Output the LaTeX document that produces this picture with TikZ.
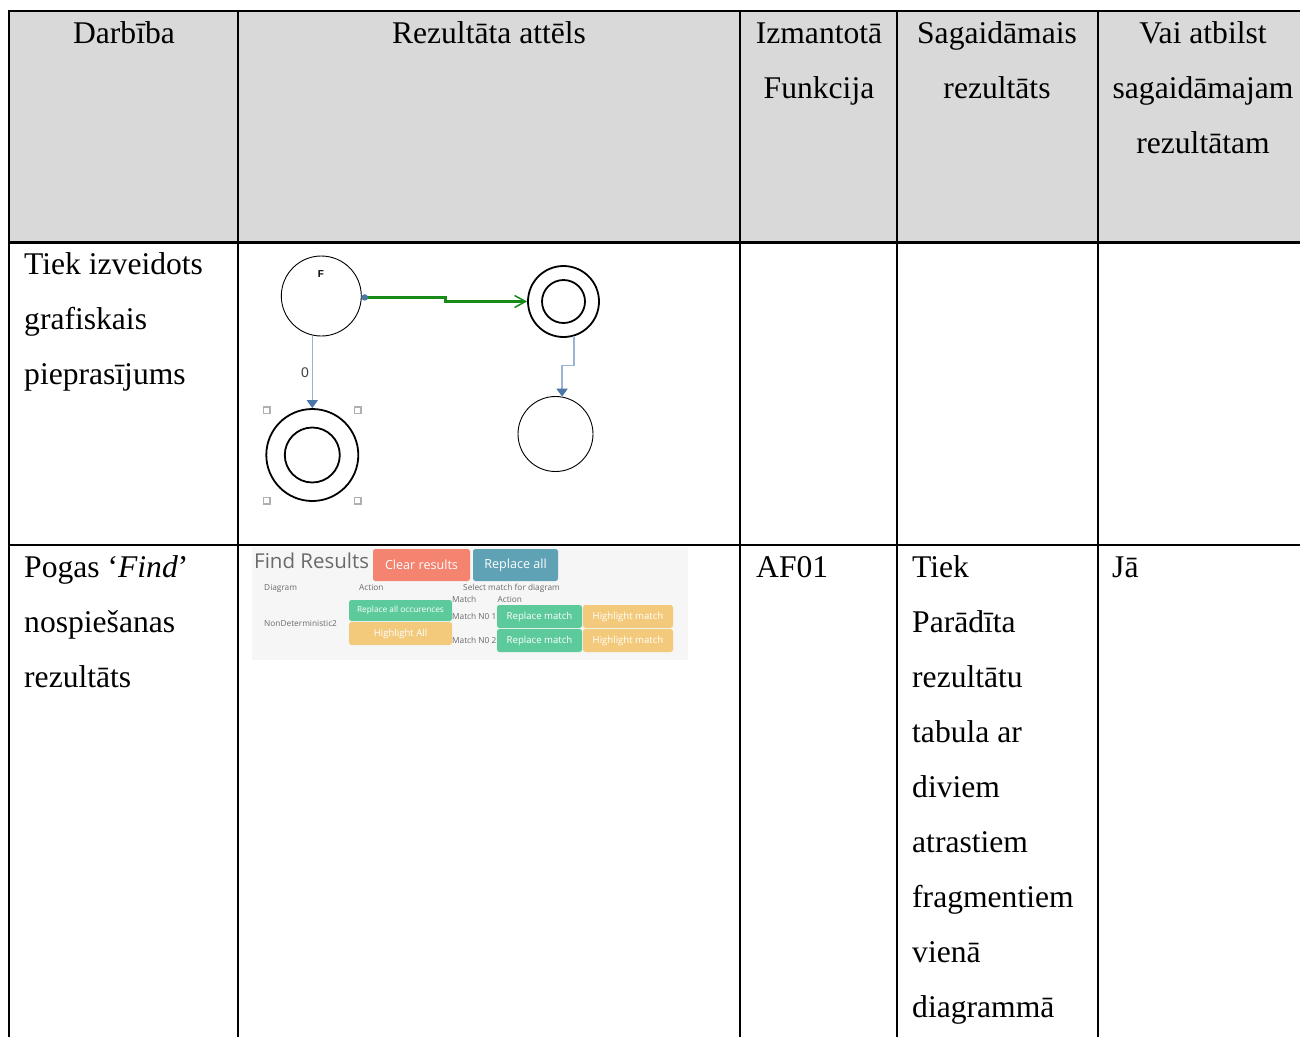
\documentclass[tikz,border=0pt]{standalone}
\usepackage{fontspec}
\setmainfont{Liberation Serif}
\newfontfamily\uifont{Open Sans}
\newfontfamily\diafont{Liberation Sans}
\usetikzlibrary{arrows.meta}

\definecolor{headgray}{HTML}{D9D9D9}
\definecolor{panelgray}{HTML}{F6F6F6}
\definecolor{uitext}{HTML}{6A6A6A}
\definecolor{btnred}{HTML}{F4836F}
\definecolor{btnteal}{HTML}{5FA2B5}
\definecolor{btngreen}{HTML}{5DCA9C}
\definecolor{btnyellow}{HTML}{F3CA7C}
\definecolor{edgeblue}{HTML}{9AB4D2}
\definecolor{tipblue}{HTML}{4A76A8}
\definecolor{edgegreen}{HTML}{178A17}
\definecolor{handlegray}{HTML}{B0B0B0}

\begin{document}
\begin{tikzpicture}[x=1pt,y=-1pt,
  rule/.style={line width=2pt, black},
  cell/.style={font=\fontsize{31.6}{38}\selectfont, inner sep=0pt},
  headc/.style={cell, anchor=base},
  bodyc/.style={cell, anchor=base west},
  plainstate/.style={circle, draw=black, line width=0.9pt, inner sep=0pt},
  acceptouter/.style={circle, draw=black, line width=1.8pt, inner sep=0pt},
  acceptinner/.style={circle, draw=black, line width=1.8pt, inner sep=0pt},
  blueedge/.style={draw=edgeblue, line width=1.6pt,
    -{Triangle[length=8pt,width=11pt,color=tipblue]}},
  greenedge/.style={draw=edgegreen, line width=2.6pt,
    -{Straight Barb[length=11pt,width=12pt,line width=1.5pt]}},
  handle/.style={draw=handlegray, fill=white, line width=1.2pt,
    minimum size=6.5pt, inner sep=0pt, rectangle},
  uibtn/.style={rectangle, rounded corners=2.5pt, inner sep=0pt, text=white},
  uismall/.style={font=\uifont\fontsize{8.3}{9}\selectfont, text=uitext,
    inner sep=0pt, anchor=base west},
]
\useasboundingbox (0,0) rectangle (1300,1037);

% header band
\fill[headgray] (10,12) rectangle (1300,241);

% table rules
\draw[rule] (8,11) -- (1300,11);
\draw[rule] (9,10) -- (9,1037);
\draw[line width=2.5pt] (9,242.3) -- (1300,242.3);
\draw[rule] (9,545) -- (1300,545);
\foreach \cx in {238.3,740.3,897,1098}
  \draw[rule] (\cx,10) -- (\cx,1037);

% header texts
\node[headc] (h1) at (124,43) {Darbība};
\node[headc] (h2) at (489,43) {Rezultāta attēls};
\node[headc] (h3a) at (819,43) {Izmantotā};
\node[headc] (h3b) at (819,98) {Funkcija};
\node[headc] (h4a) at (997,43) {Sagaidāmais};
\node[headc] (h4b) at (997,98) {rezultāts};
\node[headc] (h5a) at (1203,43) {Vai atbilst};
\node[headc] (h5b) at (1203,98) {sagaidāmajam};
\node[headc] (h5c) at (1203,153) {rezultātam};

% first row
\foreach \t [count=\i] in {Tiek izveidots,grafiskais,pieprasījums}
  \node[bodyc] (ra\i) at (24,{274+55*(\i-1)}) {\t};

% second row
\foreach \t [count=\i] in {{Pogas ‘\textit{Find}’},nospiešanas,rezultāts}
  \node[bodyc] (rb\i) at (24,{577+55*(\i-1)}) {\t};
\node[bodyc] (fn) at (756,577) {AF01};
\foreach \t [count=\i] in {Tiek,Parādīta,rezultātu,tabula ar,diviem,atrastiem,fragmentiem,vienā,diagrammā}
  \node[bodyc] (ex\i) at (912,{577+55*(\i-1)}) {\t};
\node[bodyc] (ok) at (1112,577) {Jā};

% ---- automaton sketch ----
\node[plainstate, minimum size=80pt] (f) at (321.3,296) {};
\node[font=\diafont\bfseries\fontsize{10}{12}\selectfont, inner sep=0pt] (flabel) at (321,274) {F};
\node[acceptouter, minimum size=71pt] (a2) at (563.5,301.5) {};
\node[acceptinner, minimum size=43pt] (a2in) at (563.5,301.5) {};
\node[acceptouter, minimum size=92pt] (a1) at (312.3,455) {};
\node[acceptinner, minimum size=55pt] (a1in) at (312.3,455) {};
\node[plainstate, minimum size=75pt] (b2) at (555.5,434) {};

% selection handles
\node[handle] (hnw) at (266.7,410.3) {};
\node[handle] (hne) at (357.7,410.3) {};
\node[handle] (hsw) at (266.7,500.7) {};
\node[handle] (hse) at (357.7,500.7) {};

% transitions
\draw[blueedge] (a1.north |- f.south) -- (a1.north);
\node[font=\diafont\fontsize{14}{16}\selectfont, text=black!75, inner sep=0pt] (zero) at (305,372.5) {0};
\draw[blueedge] (a2.287) -- ++(0,29) -| (b2.80);
\coordinate (gs) at ([xshift=3pt]f.-2);
\draw[greenedge] (gs) -- ++(81,0) |- (a2.west);
\fill[tipblue] (gs) circle (3.2);

% ---- find results panel ----
\fill[panelgray] (252,546.5) rectangle (688,660);
\node[font=\uifont\fontsize{20.5}{24}\selectfont, text=uitext, inner sep=0pt, anchor=base west] (ftitle) at (254,568) {Find Results};
\node[uibtn, fill=btnred, minimum width=97pt, minimum height=32pt, font=\uifont\fontsize{12.6}{14}\selectfont] (bclear) at (421.5,565) {Clear results};
\node[uibtn, fill=btnteal, minimum width=85pt, minimum height=32pt, font=\uifont\fontsize{12.6}{14}\selectfont] (brepall) at (515.5,565) {Replace all};

\node[uismall] (tdiag) at (264,590) {Diagram};
\node[uismall] (tact) at (359,590) {Action};
\node[uismall] (tsel) at (463,590) {Select match for diagram};
\node[uismall] (tmatch) at (452,602) {Match};
\node[uismall] (tact2) at (497.5,602) {Action};
\node[uismall] (tnd) at (264,626) {NonDeterministic2};
\node[uismall] (tm1) at (452,619.5) {Match N0 1};
\node[uismall] (tm2) at (452,643) {Match N0 2};

\node[uibtn, fill=btngreen, minimum width=103pt, minimum height=21pt, font=\uifont\fontsize{8.3}{9}\selectfont] (breocc) at (400.5,610.5) {Replace all occurences};
\node[uibtn, fill=btnyellow, minimum width=103pt, minimum height=23pt, font=\uifont\fontsize{9.6}{11}\selectfont] (bhlall) at (400.5,633.5) {Highlight All};
\node[uibtn, fill=btngreen, minimum width=85pt, minimum height=23pt, font=\uifont\fontsize{9.6}{11}\selectfont] (brm1) at (539.5,616.5) {Replace match};
\node[uibtn, fill=btnyellow, minimum width=90pt, minimum height=23pt, font=\uifont\fontsize{9.6}{11}\selectfont] (bhm1) at (628,616.5) {Highlight match};
\node[uibtn, fill=btngreen, minimum width=85pt, minimum height=23pt, font=\uifont\fontsize{9.6}{11}\selectfont] (brm2) at (539.5,640.5) {Replace match};
\node[uibtn, fill=btnyellow, minimum width=90pt, minimum height=23pt, font=\uifont\fontsize{9.6}{11}\selectfont] (bhm2) at (628,640.5) {Highlight match};
\end{tikzpicture}
\end{document}
